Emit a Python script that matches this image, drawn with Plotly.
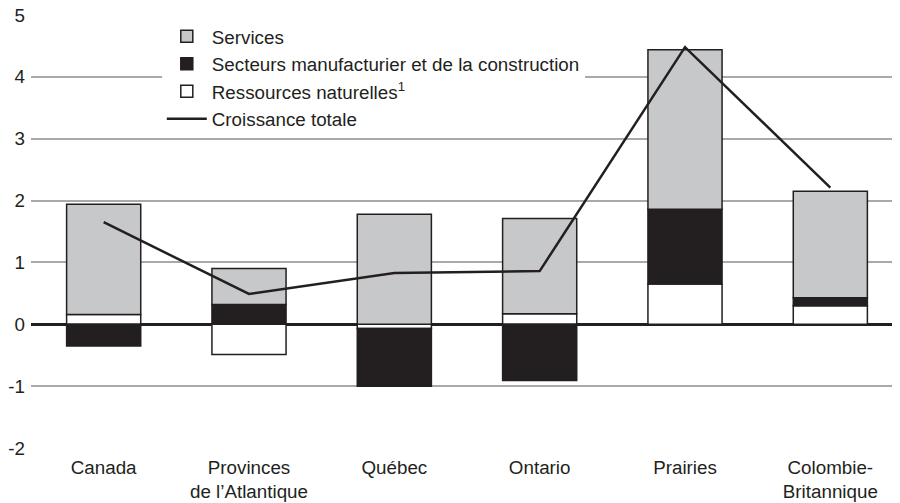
import plotly.graph_objects as go

categories = ["Canada", "Provinces<br>de l’Atlantique", "Québec", "Ontario", "Prairies", "Colombie-<br>Britannique"]
services = [1.78, 0.58, 1.78, 1.54, 2.58, 1.72]
manufacturing = [-0.35, 0.32, -0.93, -0.91, 1.21, 0.13]
resources = [0.16, -0.49, -0.07, 0.17, 0.65, 0.30]
total_growth = [1.65, 0.49, 0.83, 0.86, 4.48, 2.21]
y_ticks = [-2, -1, 0, 1, 2, 3, 4, 5]
y_tick_labels = ["-2", "-1", "0", "1", "2", "3", "4", "5"]

DARK = "#231f20"
GRAY = "#c7c8ca"
GRID = "#a7a9ac"
FONT = "Liberation Sans, Arial, Helvetica, sans-serif"

fig = go.Figure()
fig.add_trace(go.Bar(x=categories, y=resources, name="Ressources naturelles<sup>1</sup>",
                     marker=dict(color="white", line=dict(color=DARK, width=1.5)),
                     width=0.51, legendrank=3))
fig.add_trace(go.Bar(x=categories, y=manufacturing, name="Secteurs manufacturier et de la construction",
                     marker=dict(color=DARK, line=dict(color=DARK, width=1.5)),
                     width=0.51, legendrank=2))
fig.add_trace(go.Bar(x=categories, y=services, name="Services",
                     marker=dict(color=GRAY, line=dict(color=DARK, width=1.5)),
                     width=0.51, legendrank=1))
fig.add_trace(go.Scatter(x=categories, y=total_growth, name="Croissance totale",
                         mode="lines", line=dict(color=DARK, width=2.5), legendrank=4))

# the page body adds an 8px offset, compensated in the margins
fig.update_layout(
    width=900, height=503,
    barmode="relative",
    plot_bgcolor="white", paper_bgcolor="white",
    margin=dict(l=23, r=5, t=7, b=63, autoexpand=False),
    font=dict(family=FONT, size=18.8, color=DARK),
    legend=dict(x=0.150, y=0.994, xanchor="left", yanchor="top",
                bgcolor="white", font=dict(size=18.8, color=DARK),
                tracegroupgap=0, itemwidth=40),
    showlegend=True,
)
fig.update_xaxes(range=[-0.5, 5.5], showgrid=False, showline=False, ticks="",
                 automargin=False, ticklabelstandoff=6,
                 tickfont=dict(size=18.8, color=DARK))
fig.update_yaxes(range=[-2, 5], tickvals=y_ticks, ticktext=y_tick_labels,
                 showgrid=True, gridcolor=GRID, gridwidth=1.5, automargin=False,
                 zeroline=True, zerolinecolor=DARK, zerolinewidth=3, showline=False,
                 ticklabelstandoff=5, ticklabeloverflow="allow",
                 tickfont=dict(size=18.8, color=DARK))

fig.write_html("out.html")
